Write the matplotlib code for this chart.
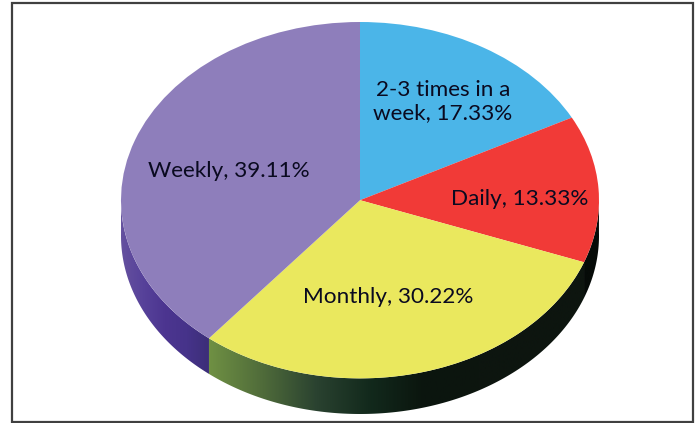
# -*- coding: utf-8 -*-
import numpy as np
import matplotlib
matplotlib.use('Agg')
import matplotlib.pyplot as plt
from matplotlib.colors import LinearSegmentedColormap
from matplotlib.patches import Polygon, Rectangle

# data
labels = ['2-3 times in a\nweek, 17.33%', 'Daily, 13.33%', 'Monthly, 30.22%', 'Weekly, 39.11%']
values = [17.33, 13.33, 30.22, 39.11]
colors = ['#4BB5E8', '#F13A37', '#EAE85E', '#8E7EBB']
label_x = [0.347, 0.67, 0.117, -0.548]
label_y = [0.556, 0.005, -0.545, 0.163]

# side wall gradients, left to right across the slice
side_colors = [
    ['#4BB5E8', '#4BB5E8'],
    ['#060B08', '#060B08'],
    ['#6F9043', '#4F6B3A', '#2A4230', '#12291C', '#0B150E', '#0D150F', '#0D150F', '#0D150F'],
    ['#65519F', '#57429A', '#4C3590', '#46338A', '#3C2E78'],
]

DEPTH = 0.2

plt.rcParams['font.family'] = ['Lato', 'DejaVu Sans']

fig = plt.figure(figsize=(6.96, 4.23), dpi=100)
fig.patch.set_facecolor('white')

# marco exterior
fig.add_artist(Rectangle((11.5 / 696, 1 - 421.5 / 423), 681.5 / 696, 418 / 423,
                         transform=fig.transFigure, fill=False,
                         edgecolor='#404040', linewidth=1.6))

ax = fig.add_axes([121 / 696, 1 - 414 / 423, 478 / 696, 392 / 423])

# pared lateral, una por sector, solo la parte de abajo
fractions = np.array(values) / sum(values)
edges = 90 - 360 * np.concatenate([[0], np.cumsum(fractions)])
for i in range(len(values)):
    theta = np.radians(np.linspace(edges[i], edges[i + 1], 200))
    theta = theta[np.sin(theta) <= 0.02]
    if len(theta) < 2:
        continue
    x = np.cos(theta)
    y = np.sin(theta)
    pts = np.vstack([np.column_stack([x, y]),
                     np.column_stack([x[::-1], y[::-1] - DEPTH])])
    clip = Polygon(pts, closed=True, transform=ax.transData, facecolor='none', edgecolor='none')
    ax.add_patch(clip)
    cmap = LinearSegmentedColormap.from_list('side%d' % i, side_colors[i])
    img = ax.imshow(np.linspace(0, 1, 256).reshape(1, -1), cmap=cmap, aspect='auto',
                    extent=[x.min(), x.max(), -1 - DEPTH, 1], interpolation='bilinear',
                    zorder=1)
    img.set_clip_path(clip)

# cara superior
wedges, _ = ax.pie(values, colors=colors, startangle=90, counterclock=False, radius=1)
for w in wedges:
    w.set_zorder(2)
    w.set_linewidth(0)

for lab, lx, ly in zip(labels, label_x, label_y):
    ax.text(lx, ly, lab, ha='center', va='center', fontsize=16.2, color='#0A0A20',
            linespacing=1.2, zorder=3)

ax.set_aspect('auto')
ax.set_xlim(-1, 1)
ax.set_ylim(-1 - DEPTH, 1)
ax.axis('off')

fig.savefig('out.png', dpi=100)
